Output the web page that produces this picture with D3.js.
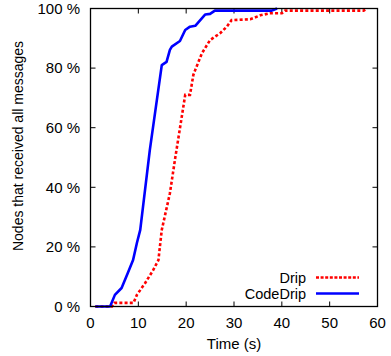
<!DOCTYPE html>
<html><head><meta charset="utf-8">
<script src="https://cdn.jsdelivr.net/npm/d3@7"></script>
<style>body{margin:0;background:#fff}svg{display:block}text{font-family:"Liberation Sans",Arial,Helvetica,sans-serif;fill:#000}</style>
</head><body><svg id="c" width="391" height="356"></svg>
<script>
const xTicks = [0, 10, 20, 30, 40, 50, 60];
const yTicks = [0, 20, 40, 60, 80, 100];
const yTickLabels = ["0 %", "20 %", "40 %", "60 %", "80 %", "100 %"];
const seriesNames = ["Drip", "CodeDrip"];
const dripTime = [1, 4.5, 5.0, 9.0, 9.7, 11.4, 13.1, 14.2, 14.9, 16.6, 17.7, 19.8, 20.8, 21.5, 21.9, 23.3, 25.0, 27.1, 28.5, 29.5, 33.4, 35.5, 37.5, 40.0, 40.7, 57.1, 57.8];
const dripPct  = [0, 0, 1.2, 1.2, 3.9, 7.8, 12.2, 15.6, 25.7, 38, 49.7, 71, 71, 77.7, 79.4, 85, 89.4, 91.7, 93.9, 96.1, 96.4, 97.7, 98.4, 98.4, 99.3, 99.3, 100];
const codeTime = [1, 4.1, 5.1, 6.5, 7.8, 8.9, 9.7, 10.4, 12.4, 14.9, 15.9, 16.6, 17.0, 18.7, 19.8, 20.8, 21.9, 24.0, 25.0, 26.0, 37.9, 39.0];
const codePct  = [0, 0, 3.9, 6.2, 11.2, 15.6, 21.3, 25.7, 52.5, 81.0, 82.1, 86.1, 87.2, 89.1, 92.8, 93.9, 94.2, 98.0, 98.2, 99.3, 99.3, 100];

const svg = d3.select("#c");
const L = 90.5, R = 377.5, T = 8.5, B = 306.5;
const x = d3.scaleLinear().domain([0, 60]).range([L, R]);
const y = d3.scaleLinear().domain([0, 100]).range([B, T]);

// mirrored inward ticks
const tk = 5;
const g = svg.append("g");
xTicks.forEach(v => {
  g.append("line").attr("x1", x(v)).attr("x2", x(v)).attr("y1", B).attr("y2", B - tk).attr("stroke", "#000").attr("stroke-width", 1);
  g.append("line").attr("x1", x(v)).attr("x2", x(v)).attr("y1", T).attr("y2", T + tk).attr("stroke", "#000").attr("stroke-width", 1);
  svg.append("text").attr("x", x(v)).attr("y", 328).attr("text-anchor", "middle").attr("font-size", 15).text(v);
});
yTicks.forEach((v, i) => {
  g.append("line").attr("x1", L).attr("x2", L + tk).attr("y1", y(v)).attr("y2", y(v)).attr("stroke", "#000").attr("stroke-width", 1);
  g.append("line").attr("x1", R).attr("x2", R - tk).attr("y1", y(v)).attr("y2", y(v)).attr("stroke", "#000").attr("stroke-width", 1);
  svg.append("text").attr("x", 80).attr("y", y(v) + 5.3).attr("text-anchor", "end").attr("font-size", 15).text(yTickLabels[i]);
});

const line = d3.line().x(d => x(d[0])).y(d => y(d[1]));
const drip = dripTime.map((t, i) => [t, dripPct[i]]);
const code = codeTime.map((t, i) => [t, codePct[i]]);

svg.append("path").datum(drip).attr("d", line).attr("fill", "none").attr("stroke", "#ff0000").attr("stroke-width", 2.6).attr("stroke-dasharray", "3,2.2");
svg.append("path").datum(code).attr("d", line).attr("fill", "none").attr("stroke", "#0000ff").attr("stroke-width", 2.6).attr("stroke-linejoin", "round");

svg.append("rect").attr("x", L).attr("y", T).attr("width", R - L).attr("height", B - T).attr("fill", "none").attr("stroke", "#000").attr("stroke-width", 1.3);

// legend
const legY = [277.5, 293.5];
const legColors = ["#ff0000", "#0000ff"];
seriesNames.forEach((n, i) => {
  svg.append("text").attr("x", 306).attr("y", legY[i] + 5).attr("text-anchor", "end").attr("font-size", 14.5).text(n);
  const ln = svg.append("line").attr("x1", 316).attr("x2", 359).attr("y1", legY[i]).attr("y2", legY[i]).attr("stroke", legColors[i]).attr("stroke-width", 2.6);
  if (i === 0) ln.attr("stroke-dasharray", "3,1.6");
});

svg.append("text").attr("x", (L + R) / 2).attr("y", 349).attr("text-anchor", "middle").attr("font-size", 15).text("Time (s)");
svg.append("text").attr("transform", "translate(23,146) rotate(-90)").attr("text-anchor", "middle").attr("font-size", 14).text("Nodes that received all messages");
</script></body></html>
